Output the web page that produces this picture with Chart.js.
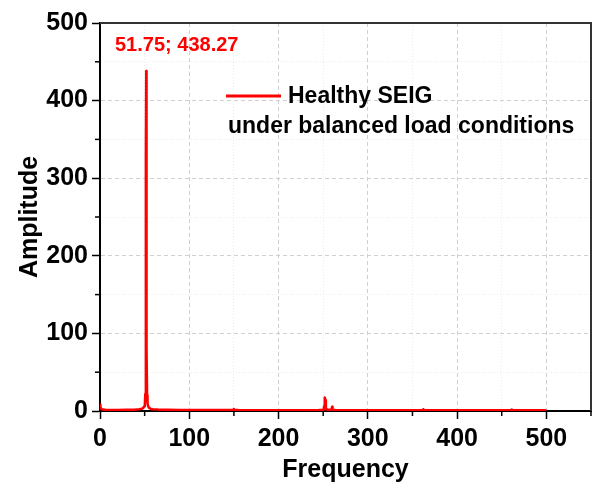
<!DOCTYPE html>
<html>
<head>
<meta charset="utf-8">
<script src="https://cdn.jsdelivr.net/npm/chart.js@4/dist/chart.umd.min.js"></script>
<style>
  html, body { margin: 0; padding: 0; background: #fff; }
</style>
</head>
<body>
<canvas id="spectrum" width="592" height="493"></canvas>
<script>
// spectrum (Hz -> amplitude)
const freq = [0, 0.5, 1.5, 3, 6, 10, 20, 30, 38, 44, 47, 48.5, 49.5, 50.25, 50.75, 51.25, 51.5, 51.75, 52, 52.25, 52.75, 53.25, 54, 55, 56.5, 59, 65, 75, 90, 110, 130, 145, 149.5, 150, 150.5, 155, 175, 200, 225, 245, 250.5, 251, 251.5, 252, 252.5, 253, 255, 259, 259.5, 260, 260.5, 261, 264, 280, 310, 340, 355, 361.5, 362, 362.5, 370, 400, 430, 455, 460.5, 461, 461.5, 470, 490, 500];
const amp = [8, 5, 2.5, 1.8, 1.5, 1.4, 1.4, 1.5, 1.7, 2.2, 3, 4, 6, 10, 22, 95, 330, 438.27, 300, 80, 20, 10, 6, 4, 3, 2.2, 1.8, 1.5, 1.3, 1.2, 1.2, 1.2, 1.5, 2.5, 1.5, 1.2, 1.1, 1.1, 1.1, 1.2, 1.5, 6, 16, 17.5, 14, 3, 1.5, 1.5, 3, 5.5, 3, 1.5, 1.2, 1.1, 1.1, 1.1, 1.1, 1.3, 2, 1.3, 1.1, 1, 1, 1, 1.2, 2, 1.2, 1, 1, 1];

const xRange = [0, 550];
const yRange = [0, 500];
const tickStep = 50;
const peakLabel = "51.75; 438.27";
const legendLines = ["Healthy SEIG", "under balanced load conditions"];

const FONT = "'Liberation Sans', Arial, sans-serif";
const RED = "#ff0000";

const isMajor = v => v % 100 === 0;

// frame, minor ticks, peak label and legend
const extras = {
  id: "extras",
  afterDraw(chart) {
    const { ctx, chartArea: a, scales } = chart;
    ctx.save();

    // minor ticks (shorter than the major ones)
    ctx.strokeStyle = "#000";
    ctx.lineWidth = 1.5;
    scales.x.ticks.forEach(t => {
      if (isMajor(t.value)) return;
      const px = scales.x.getPixelForValue(t.value);
      ctx.beginPath(); ctx.moveTo(px, a.bottom); ctx.lineTo(px, a.bottom + 5); ctx.stroke();
    });
    scales.y.ticks.forEach(t => {
      if (isMajor(t.value)) return;
      const py = scales.y.getPixelForValue(t.value);
      ctx.beginPath(); ctx.moveTo(a.left, py); ctx.lineTo(a.left - 5, py); ctx.stroke();
    });

    // top + right border
    ctx.strokeStyle = "#333";
    ctx.lineWidth = 2;
    ctx.beginPath();
    ctx.moveTo(a.left, a.top);
    ctx.lineTo(a.right, a.top);
    ctx.lineTo(a.right, a.bottom);
    ctx.stroke();

    // peak label
    ctx.fillStyle = RED;
    ctx.font = "bold 20px " + FONT;
    ctx.textBaseline = "middle";
    ctx.textAlign = "left";
    ctx.fillText(peakLabel, 115, 45);

    // legend
    ctx.strokeStyle = RED;
    ctx.lineWidth = 3;
    ctx.beginPath(); ctx.moveTo(226, 96); ctx.lineTo(281, 96); ctx.stroke();
    ctx.fillStyle = "#000";
    ctx.font = "bold 23px " + FONT;
    ctx.fillText(legendLines[0], 288, 97);
    ctx.fillText(legendLines[1], 228, 127);

    ctx.restore();
  }
};

const axisTicks = {
  stepSize: tickStep,
  autoSkip: false,
  maxRotation: 0,
  color: "#000",
  font: { family: FONT, size: 25, weight: "bold" },
  callback: v => (isMajor(v) ? v : "")
};

const gridOpts = {
  color: c => (isMajor(c.tick.value) ? "#d0d0d0" : "#ececec"),
  lineWidth: 1,
  tickLength: 8,
  tickWidth: 1.5,
  tickColor: c => (isMajor(c.tick.value) ? "#000" : "rgba(0,0,0,0)")
};

new Chart(document.getElementById("spectrum"), {
  type: "line",
  data: {
    datasets: [{
      data: freq.map((f, i) => ({ x: f, y: amp[i] })),
      borderColor: RED,
      borderWidth: 2.5,
      borderJoinStyle: "round",
      pointRadius: 0,
      tension: 0,
      fill: false
    }]
  },
  options: {
    responsive: false,
    devicePixelRatio: 1,
    animation: false,
    parsing: false,
    layout: { padding: { top: 23, right: 1, left: 0, bottom: 0 } },
    plugins: { legend: { display: false }, tooltip: { enabled: false } },
    scales: {
      x: {
        type: "linear",
        min: xRange[0],
        max: xRange[1],
        ticks: { ...axisTicks, padding: 5 },
        grid: gridOpts,
        border: { display: true, color: "#000", width: 2, dash: c => (isMajor(c.tick.value) ? [4, 3] : [1, 2]) },
        title: { display: true, text: "Frequency", color: "#000", font: { family: FONT, size: 25, weight: "bold" }, padding: { bottom: 8, top: 0 } },
        afterFit: s => { s.height = 82; s.paddingRight = 0; }
      },
      y: {
        min: yRange[0],
        max: yRange[1],
        ticks: { ...axisTicks, padding: 4 },
        grid: gridOpts,
        border: { display: true, color: "#000", width: 2, dash: c => (isMajor(c.tick.value) ? [4, 3] : [1, 2]) },
        title: { display: true, text: "Amplitude", color: "#000", font: { family: FONT, size: 25, weight: "bold" }, padding: { top: 15, bottom: 0 } },
        afterFit: s => { s.width = 100; }
      }
    }
  },
  plugins: [extras]
});
</script>
</body>
</html>
